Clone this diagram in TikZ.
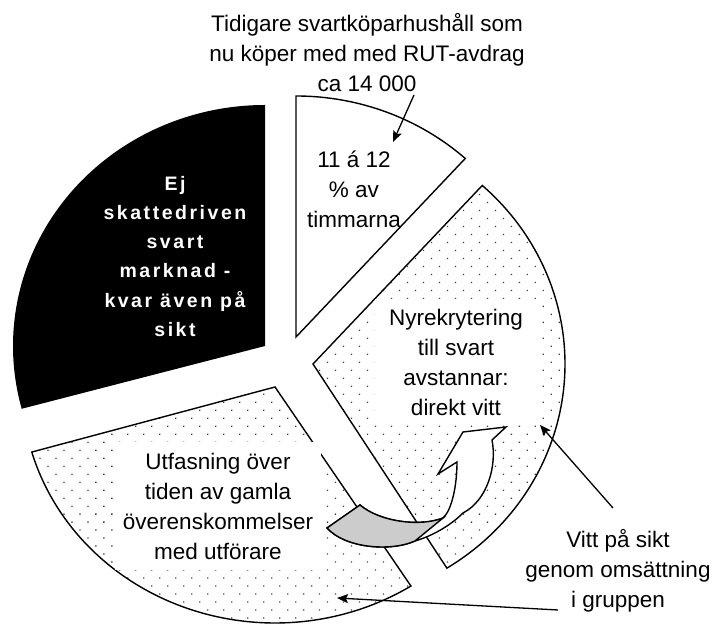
\documentclass[tikz,border=0pt]{standalone}
\usepackage{fontspec}
\setmainfont{Liberation Sans}
\usepackage{tikz}
\usetikzlibrary{arrows.meta,patterns.meta}

\definecolor{arrowgray}{RGB}{204,204,204}

\begin{document}
\begin{tikzpicture}[x=1pt, y=1pt, line width=1.4pt, line join=miter,
    txt/.style={align=center, font=\fontsize{22.5}{30}\selectfont, inner sep=0pt},
    dotted_slice/.style={draw, pattern={Dots[distance=11.3pt, angle=45, radius=0.9pt]}, pattern color=black!75},
    pointer/.style={-{Stealth[length=11pt, width=9pt, inset=2pt]}, line width=1.3pt}]
        \useasboundingbox (0,0) rectangle (713,626);
        \clip (0,0) rectangle (713,626);

        % Define coordinates
        \coordinate (black_apex) at (265,280);
        \coordinate (white_apex) at (296,289);
        \coordinate (right_apex) at (313,262);
        \coordinate (lower_apex) at (275,239);

        % Draw the black slice
        \fill (black_apex) -- ++({252*cos(195.1)},{241*sin(195.1)})
            arc[start angle=195.1, end angle=90, x radius=252pt, y radius=241pt] -- cycle;

        % Draw the white slice
        \draw[fill=white] (white_apex) -- ++({252*cos(47.8)},{241*sin(47.8)})
            arc[start angle=47.8, end angle=90, x radius=252pt, y radius=241pt] -- cycle;

        % Draw the two dotted slices
        \path[dotted_slice] (right_apex) -- ++({252*cos(-57.9)},{241*sin(-57.9)})
            arc[start angle=-57.9, end angle=47.8, x radius=252pt, y radius=241pt] -- cycle;
        \path[dotted_slice] (lower_apex) -- ++({253*cos(196)},{236*sin(196)})
            arc[start angle=196, end angle=302.5, x radius=253pt, y radius=236pt] -- cycle;

        % Texts in and around the slices
        \node[txt] (rut_note) at (367,573.2) {Tidigare svartköparhushåll som\\nu köper med med RUT-avdrag\\ca 14 000};
        \node[txt] (share) at (354,436.2) {11 á 12\\\% av\\timmarna};
        \node[txt, text=white, font=\fontsize{19.5}{29.3}\selectfont\bfseries\addfontfeature{LetterSpace=13}] (black_note) at (175,369.7)
            {Ej\\skattedriven\\svart\\marknad -\\kvar även på\\sikt};
        \node[txt, fill=white, minimum width=162pt, minimum height=126pt] (recruit) at (456,264)
            {Nyrekrytering\\till svart\\avstannar:\\direkt vitt};
        \node[txt, fill=white, minimum width=206pt, minimum height=128pt] (phaseout) at (218,120)
            {Utfasning över\\tiden av gamla\\överenskommelser\\med utförare};
        \node[txt] (turnover) at (618,55) {Vitt på sikt\\genom omsättning\\i gruppen};

        % Curved block arrow
        \coordinate (tail_low) at (327,98);
        \coordinate (tail_high) at (360,121);
        \coordinate (bend) at (443,108);
        \coordinate (notch) at (457,164);
        \coordinate (barb) at (438,152);
        \coordinate (head_tip) at (463,194);
        \coordinate (head_right) at (506,199);
        \coordinate (head_base) at (492,186);
        \coordinate (outer_mid) at (463,113);
        \coordinate (outer_low) at (415,85);
        \draw[fill=white] (tail_low) -- (tail_high) .. controls (380,104) and (420,99) .. (bend)
            .. controls (452,116) and (457,141) .. (notch) -- (barb) -- (head_tip) -- (head_right) -- (head_base)
            .. controls (497,161) and (488,126) .. (outer_mid) .. controls (450,100) and (432,90) .. (outer_low)
            .. controls (390,74) and (345,78) .. cycle;
        \draw[fill=arrowgray] (tail_low) -- (tail_high) .. controls (380,104) and (420,99) .. (bend)
            -- (outer_low) .. controls (390,74) and (345,78) .. cycle;

        % Pointers
        \coordinate (rut_from) at (414,531);
        \coordinate (rut_to) at (393,484);
        \coordinate (vitt_from) at (613,118);
        \coordinate (vitt_to) at (540,201);
        \coordinate (grupp_from) at (558,16);
        \coordinate (grupp_to) at (337,28);
        \draw[pointer] (rut_from) -- (rut_to);
        \draw[pointer] (vitt_from) -- (vitt_to);
        \draw[pointer] (grupp_from) -- (grupp_to);
      \end{tikzpicture}
\end{document}
